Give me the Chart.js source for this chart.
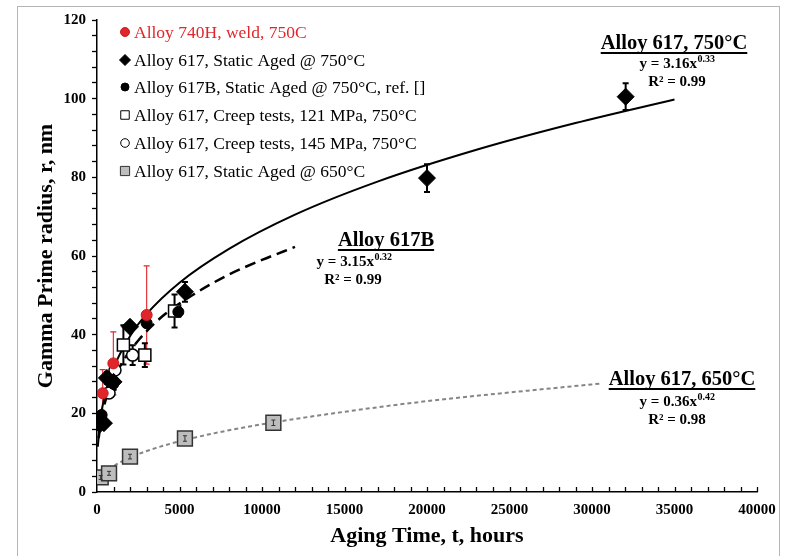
<!DOCTYPE html>
<html>
<head>
<meta charset="utf-8">
<script src="https://cdn.jsdelivr.net/npm/chart.js@4.4.1/dist/chart.umd.min.js"></script>
<style>
    html, body { margin: 0; padding: 0; background: #fff; }
</style>
</head>
<body>
<canvas id="chart" width="785" height="556"></canvas>
<script>
// measured points (hours, nm) and error half-widths
const weld740Time = [345, 990, 3010];
const weld740Radius = [25.1, 32.7, 45.0];
const weld740Err = [6, 8, 12.5];

const aged617Time = [170, 420, 600, 1000, 2000, 5330, 20000, 32040];
const aged617Radius = [17.2, 17.5, 29.0, 28.0, 42.0, 50.9, 79.8, 100.5];
const aged617Err = [0, 0, 1.5, 2, 1, 2.5, 3.5, 3.4];

const aged617BTime = [280, 990, 3010, 4930];
const aged617BRadius = [19.6, 27.5, 42.9, 45.8];
const aged617BErr = [0, 1.5, 0, 0];

const creep121Time = [1600, 2900, 4700];
const creep121Radius = [37.4, 34.8, 46.0];
const creep121Err = [5, 3, 4.2];

const creep145Time = [730, 1090, 2160];
const creep145Radius = [25.2, 31.0, 34.8];
const creep145Err = [1, 2, 2.5];

const aged650Time = [225, 730, 2000, 5330, 10690];
const aged650Radius = [3.7, 4.75, 9.0, 13.6, 17.6];
const aged650Err = [0.5, 0.5, 0.6, 0.7, 0.7];

// trend lines
const fit750Time = [50, 200, 500, 1000, 2000, 3000, 5000, 8000, 12000, 17000, 23000, 29000, 35000];
const fit750Radius = [11.5, 18.4, 25.0, 31.5, 39.6, 45.2, 53.2, 61.8, 70.5, 78.9, 87.0, 93.8, 99.8];

const fit617BTime = [100, 300, 700, 1500, 2500, 4000, 6000, 8000, 10000, 12000];
const fit617BRadius = [13.7, 19.5, 25.6, 32.7, 38.5, 44.8, 50.6, 55.3, 59.0, 62.3];

const fit650Time = [150, 500, 1000, 2000, 3500, 5500, 8000, 11000, 15000, 20000, 25000, 30600];
const fit650Radius = [2.95, 4.9, 6.55, 8.76, 11.1, 13.4, 15.7, 17.9, 20.4, 23.1, 25.3, 27.6];

const xMajor = 5000;
const yMajor = 20;

const pts = (xs, ys) => xs.map((v, i) => ({ x: v, y: ys[i] }));

const serif = "'Liberation Serif', 'Times New Roman', serif";

const frame = {
    id: "frame",
    beforeDraw(chart) {
        const ctx = chart.ctx;
        ctx.save();
        ctx.fillStyle = "#fff";
        ctx.fillRect(0, 0, chart.width, chart.height);
        ctx.strokeStyle = "#b5b5b5";
        ctx.lineWidth = 1;
        ctx.strokeRect(17.5, 6.5, 762, 560);
        ctx.restore();
    },
};

const drawErrors = (chart, onTop) => {
    const { ctx, scales: { x, y } } = chart;
    chart.data.datasets.forEach((ds) => {
        if (!ds.errors || !!ds.errOnTop !== onTop) return;
        ctx.save();
        ctx.strokeStyle = ds.errColor;
        ctx.lineWidth = ds.errWidth || 1.4;
        ds.data.forEach((p, j) => {
            const e = ds.errors[j];
            if (!e) return;
            const px = x.getPixelForValue(p.x);
            const top = y.getPixelForValue(p.y + e);
            const bot = y.getPixelForValue(p.y - e);
            const c = ds.capWidth || 3;
            ctx.beginPath();
            ctx.moveTo(px, top); ctx.lineTo(px, bot);
            ctx.moveTo(px - c, top); ctx.lineTo(px + c, top);
            ctx.moveTo(px - c, bot); ctx.lineTo(px + c, bot);
            ctx.stroke();
        });
        ctx.restore();
    });
};

const errorBars = {
    id: "errorBars",
    beforeDatasetsDraw(chart) { drawErrors(chart, false); },
    afterDatasetsDraw(chart) { drawErrors(chart, true); },
};

// x ticks point up into the plot
const xTicks = {
    id: "xTicks",
    afterDraw(chart) {
        const { ctx, scales: { x }, chartArea } = chart;
        ctx.save();
        ctx.strokeStyle = "#000";
        ctx.lineWidth = 1.3;
        ctx.beginPath();
        for (let v = 1000; v <= 40000; v += 1000) {
            const px = Math.round(x.getPixelForValue(v)) + 0.5;
            ctx.moveTo(px, chartArea.bottom);
            ctx.lineTo(px, chartArea.bottom - 5);
        }
        ctx.stroke();
        ctx.restore();
    },
};

const legendBox = {
    id: "legendBox",
    afterDraw(chart) {
        const ctx = chart.ctx;
        const rows = [32, 60, 87, 115, 143, 171];
        let k = 0;
        ctx.save();
        ctx.font = "17.5px " + serif;
        ctx.textBaseline = "middle";
        chart.data.datasets.forEach((ds) => {
            if (ds.isFit) return;
            const yy = rows[k++];
            ctx.fillStyle = ds.backgroundColor;
            ctx.strokeStyle = ds.borderColor;
            Chart.helpers.drawPoint(ctx, {
                pointStyle: ds.pointStyle,
                radius: ds.legendRadius,
                rotation: 0,
                borderWidth: ds.borderWidth,
            }, 125, yy);
            ctx.fillStyle = ds.labelColor || "#000";
            ctx.fillText(ds.label, 134, yy + 1);
        });
        ctx.restore();
    },
};

const notes = [
    { title: "Alloy 617, 750°C", tx: 674, ty: 44, coef: "y = 3.16x", pow: "0.33", ex: 677, ey: 64, r2: "R² = 0.99", rx: 677, ry: 82 },
    { title: "Alloy 617B", tx: 386, ty: 241, coef: "y = 3.15x", pow: "0.32", ex: 354, ey: 262, r2: "R² = 0.99", rx: 353, ry: 280 },
    { title: "Alloy 617, 650°C", tx: 682, ty: 380, coef: "y = 0.36x", pow: "0.42", ex: 677, ey: 402, r2: "R² = 0.98", rx: 677, ry: 420 },
];

const fitNotes = {
    id: "fitNotes",
    afterDraw(chart) {
        const ctx = chart.ctx;
        ctx.save();
        ctx.fillStyle = "#000";
        ctx.strokeStyle = "#000";
        ctx.textBaseline = "middle";
        notes.forEach((n) => {
            ctx.font = "bold 20.5px " + serif;
            ctx.textAlign = "center";
            ctx.fillText(n.title, n.tx, n.ty);
            const w = ctx.measureText(n.title).width;
            ctx.lineWidth = 2;
            ctx.beginPath();
            ctx.moveTo(n.tx - w / 2, n.ty + 9);
            ctx.lineTo(n.tx + w / 2, n.ty + 9);
            ctx.stroke();

            ctx.font = "bold 15px " + serif;
            const w1 = ctx.measureText(n.coef).width;
            ctx.font = "bold 10px " + serif;
            const w2 = ctx.measureText(n.pow).width;
            const left = n.ex - (w1 + w2) / 2;
            ctx.textAlign = "left";
            ctx.font = "bold 15px " + serif;
            ctx.fillText(n.coef, left, n.ey);
            ctx.font = "bold 10px " + serif;
            ctx.fillText(n.pow, left + w1 + 0.5, n.ey - 5);

            ctx.font = "bold 15px " + serif;
            ctx.textAlign = "center";
            ctx.fillText(n.r2, n.rx, n.ry);
        });
        ctx.restore();
    },
};

const ctx = document.querySelector("#chart");

new Chart(ctx, {
    type: "scatter",
    data: {
        datasets: [
            {
                label: "Alloy 740H, weld, 750C",
                data: pts(weld740Time, weld740Radius),
                errors: weld740Err,
                errColor: "#e0262a",
                errWidth: 1.1,
                pointStyle: "circle",
                pointRadius: 5.5,
                legendRadius: 4.5,
                borderWidth: 1,
                borderColor: "#c81e1e",
                backgroundColor: "#e0262a",
                labelColor: "#e0262a",
            },
            {
                label: "Alloy 617, Static Aged @ 750°C",
                data: pts(aged617Time, aged617Radius),
                errors: aged617Err,
                errColor: "#000",
                errWidth: 2,
                pointStyle: "rectRot",
                pointRadius: 8.5,
                legendRadius: 5.5,
                borderWidth: 1,
                borderColor: "#000",
                backgroundColor: "#000",
            },
            {
                label: "Alloy 617B, Static Aged @ 750°C, ref. []",
                data: pts(aged617BTime, aged617BRadius),
                errors: aged617BErr,
                errColor: "#000",
                pointStyle: "circle",
                pointRadius: 5.5,
                legendRadius: 4,
                borderWidth: 1,
                borderColor: "#000",
                backgroundColor: "#000",
            },
            {
                label: "Alloy 617, Creep tests, 121 MPa, 750°C",
                data: pts(creep121Time, creep121Radius),
                errors: creep121Err,
                errColor: "#000",
                errWidth: 2,
                pointStyle: "rect",
                pointRadius: 8.5,
                legendRadius: 6,
                borderWidth: 1.5,
                borderColor: "#000",
                backgroundColor: "#fff",
            },
            {
                label: "Alloy 617, Creep tests, 145 MPa, 750°C",
                data: pts(creep145Time, creep145Radius),
                errors: creep145Err,
                errColor: "#000",
                errWidth: 2,
                pointStyle: "circle",
                pointRadius: 6,
                legendRadius: 4.3,
                borderWidth: 1.5,
                borderColor: "#000",
                backgroundColor: "#fff",
            },
            {
                label: "Alloy 617, Static Aged @ 650°C",
                data: pts(aged650Time, aged650Radius),
                errors: aged650Err,
                errColor: "#333",
                errWidth: 1,
                capWidth: 2,
                errOnTop: true,
                pointStyle: "rect",
                pointRadius: 10.5,
                legendRadius: 6.5,
                borderWidth: 1.5,
                borderColor: "#333",
                backgroundColor: "#bdbdbd",
            },
            {
                label: "fit 750",
                isFit: true,
                data: pts(fit750Time, fit750Radius),
                showLine: true,
                pointRadius: 0,
                borderColor: "#000",
                borderWidth: 2,
                cubicInterpolationMode: "monotone",
            },
            {
                label: "fit 617B",
                isFit: true,
                data: pts(fit617BTime, fit617BRadius),
                showLine: true,
                pointRadius: 0,
                borderColor: "#000",
                borderWidth: 2.5,
                borderDash: [11, 6],
                cubicInterpolationMode: "monotone",
            },
            {
                label: "fit 650",
                isFit: true,
                data: pts(fit650Time, fit650Radius),
                showLine: true,
                pointRadius: 0,
                borderColor: "#858585",
                borderWidth: 2,
                borderDash: [4, 3],
                cubicInterpolationMode: "monotone",
            },
        ],
    },
    options: {
        responsive: false,
        animation: false,
        layout: { padding: { left: 0, right: 28, top: 20, bottom: 0 } },
        scales: {
            x: {
                type: "linear",
                min: 0,
                max: 40000,
                afterFit: (scale) => { scale.height = 64; },
                ticks: {
                    stepSize: 1000,
                    autoSkip: false,
                    maxRotation: 0,
                    padding: 9,
                    color: "#000",
                    font: { family: serif, size: 15, weight: "bold" },
                    callback: (v) => (v % xMajor === 0 ? v : ""),
                },
                grid: { drawOnChartArea: false, drawTicks: false },
                border: { color: "#000", width: 1.5 },
                title: {
                    display: true,
                    text: "Aging Time, t, hours",
                    color: "#000",
                    font: { family: serif, size: 22, weight: "bold" },
                    padding: { top: 6, bottom: 6 },
                },
            },
            y: {
                min: 0,
                max: 120,
                afterFit: (scale) => { scale.width = 97; },
                ticks: {
                    stepSize: 4,
                    autoSkip: false,
                    padding: 6,
                    color: "#000",
                    font: { family: serif, size: 15, weight: "bold" },
                    callback: (v) => (v % yMajor === 0 ? v : ""),
                },
                grid: { drawOnChartArea: false, tickLength: 5, tickColor: "#000", tickWidth: 1.3 },
                border: { color: "#000", width: 1.5 },
                title: {
                    display: true,
                    text: "Gamma Prime radius, r, nm",
                    color: "#000",
                    font: { family: serif, size: 22, weight: "bold" },
                    padding: { top: 33, bottom: 0 },
                },
            },
        },
        plugins: {
            legend: { display: false },
            tooltip: { enabled: false },
        },
    },
    plugins: [frame, errorBars, xTicks, legendBox, fitNotes],
});
</script>
</body>
</html>
